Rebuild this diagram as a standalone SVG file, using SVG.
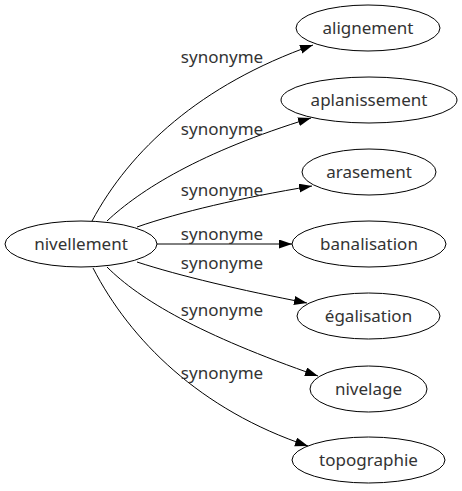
<svg xmlns="http://www.w3.org/2000/svg" width="462" height="491" viewBox="0 0 462 491">
<style>
text{font-family:"Noto Sans","DejaVu Sans",sans-serif;font-size:17px;fill:#333;text-anchor:middle}
ellipse{fill:#fff;stroke:#000;stroke-width:1}
.e{fill:none;stroke:#000;stroke-width:1}
</style>
<defs>
<marker id="a" markerUnits="userSpaceOnUse" markerWidth="14" markerHeight="10" refX="13" refY="4.5" orient="auto">
<path d="M0,0 L13,4.5 L0,9 z" fill="#000"/>
</marker>
</defs>
<g id="connectors">
<path class="e" marker-end="url(#a)" d="M92,221 C130,150 200,85 313,45"/>
<text x="222" y="63">synonyme</text>
<path class="e" marker-end="url(#a)" d="M107,221 C140,190 200,152 311,118"/>
<text x="222" y="135">synonyme</text>
<path class="e" marker-end="url(#a)" d="M137,227 C180,212 240,198 312,186"/>
<text x="222" y="196">synonyme</text>
<path class="e" marker-end="url(#a)" d="M157,244 L292,244"/>
<text x="222" y="240">synonyme</text>
<path class="e" marker-end="url(#a)" d="M137,262 C180,276 240,290 307,303"/>
<text x="222" y="269">synonyme</text>
<path class="e" marker-end="url(#a)" d="M107,267 C140,300 200,335 318,376"/>
<text x="222" y="316">synonyme</text>
<path class="e" marker-end="url(#a)" d="M93,268 C130,340 200,410 308,446"/>
<text x="222" y="379">synonyme</text>
</g>
<g id="n0"><ellipse cx="81" cy="244" rx="76" ry="23"/><text x="81" y="250">nivellement</text></g>
<g id="n1"><ellipse cx="368" cy="28" rx="72" ry="23"/><text x="368" y="34">alignement</text></g>
<g id="n2"><ellipse cx="369" cy="100" rx="88" ry="23"/><text x="369" y="106">aplanissement</text></g>
<g id="n3"><ellipse cx="369" cy="172" rx="67" ry="23"/><text x="369" y="178">arasement</text></g>
<g id="n4"><ellipse cx="369" cy="244" rx="77" ry="23"/><text x="369" y="250">banalisation</text></g>
<g id="n5"><ellipse cx="368.5" cy="316" rx="71.5" ry="23"/><text x="368.5" y="322">égalisation</text></g>
<g id="n6"><ellipse cx="368.5" cy="389" rx="58.5" ry="23"/><text x="368.5" y="395">nivelage</text></g>
<g id="n7"><ellipse cx="368.5" cy="460" rx="76.5" ry="23"/><text x="368.5" y="466">topographie</text></g>
</svg>
